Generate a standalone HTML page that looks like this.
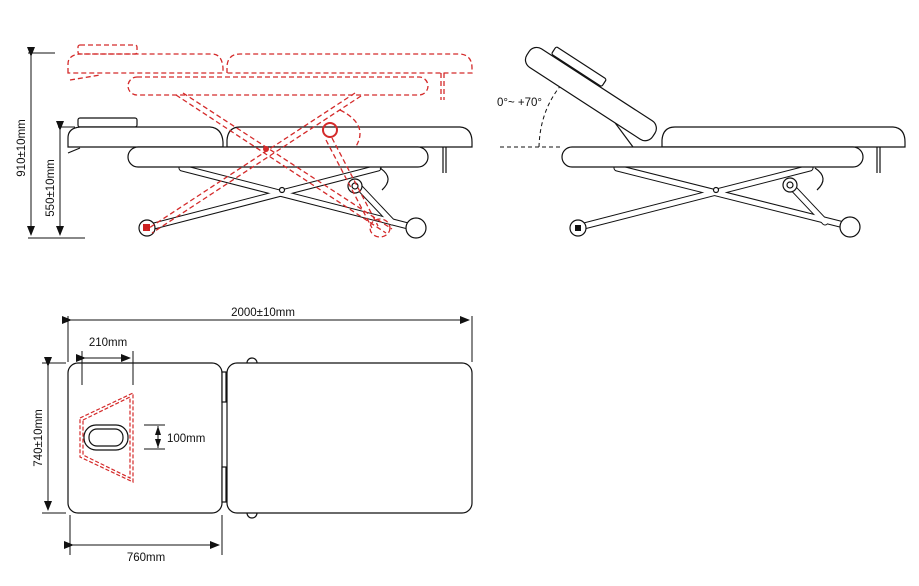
<!DOCTYPE html>
<html><head><meta charset="utf-8"><style>
html,body{margin:0;padding:0;background:#fff;}
svg{display:block;}
text{font-family:"Liberation Sans",sans-serif;font-size:11.5px;fill:#111;}
</style></head><body>
<svg width="919" height="586" viewBox="0 0 919 586" xmlns="http://www.w3.org/2000/svg">
<defs>
<marker id="ar" markerWidth="10" markerHeight="8" refX="9" refY="4" orient="auto" markerUnits="userSpaceOnUse"><path d="M0,0 L10,4 L0,8 z" fill="#111"/></marker>
</defs>
<g fill="none" stroke="#111" stroke-width="1">
<line x1="28" y1="53" x2="55" y2="53"/><line x1="28" y1="238" x2="85" y2="238"/>
<line x1="31" y1="56" x2="31" y2="235" marker-start="url(#ar)" marker-end="url(#ar)"/>
<line x1="58" y1="127" x2="75" y2="127"/>
<line x1="60" y1="130" x2="60" y2="235" marker-start="url(#ar)" marker-end="url(#ar)"/>
</g>
<text transform="translate(25,148) rotate(-90)" text-anchor="middle">910±10mm</text>
<text transform="translate(54,188) rotate(-90)" text-anchor="middle">550±10mm</text>

<g fill="#fff" stroke="#111" stroke-width="1.2">
<rect x="78" y="118" width="59" height="9" rx="2"/>
<path d="M68,147 V138 Q68,128 80,127 H210 Q222,128 223,142 V147 Z"/>
<path d="M227,147 V140 Q228,127 240,127 H460 Q472,128 472,142 V147 Z"/>
<line x1="443" y1="147" x2="443" y2="173"/><line x1="446" y1="147" x2="446" y2="173"/>
</g>
<g stroke="#111" stroke-width="7" stroke-linecap="round"><line x1="182" y1="168" x2="412" y2="227"/><line x1="378" y1="168" x2="150" y2="227"/><line x1="358" y1="186" x2="392" y2="222"/></g>
<g stroke="#fff" stroke-width="5" stroke-linecap="round"><line x1="182" y1="168" x2="412" y2="227"/><line x1="378" y1="168" x2="150" y2="227"/><line x1="358" y1="186" x2="392" y2="222"/></g>
<g fill="#fff" stroke="#111" stroke-width="1.2">
<rect x="128" y="147" width="300" height="20" rx="10"/>
<circle cx="147" cy="228" r="8"/><circle cx="416" cy="228" r="10"/>
<circle cx="282" cy="190" r="2.5"/>
<circle cx="355" cy="186" r="7"/><circle cx="355" cy="186" r="3"/>
<path d="M380,168 Q395,178 382,190" fill="none"/>
<path d="M68,153 L80,148" fill="none"/>
</g>
<rect x="143" y="224" width="7" height="7" fill="#c22"/>

<g fill="none" stroke="#d42a2a" stroke-width="1.3" stroke-dasharray="5,3">
<rect x="78" y="45" width="59" height="9" rx="2"/>
<path d="M68,73 V64 Q68,55 80,54 H212 Q222,54 223,68 V73 Z"/>
<path d="M227,73 V66 Q228,54 240,54 H460 Q472,55 472,68 V73 Z"/>
<rect x="128" y="77" width="300" height="18" rx="9"/>
<line x1="441" y1="73" x2="441" y2="100"/><line x1="444" y1="73" x2="444" y2="100"/>
<line x1="176" y1="95" x2="386" y2="233"/><line x1="183" y1="93" x2="392" y2="229"/>
<line x1="355" y1="93" x2="146" y2="230"/><line x1="361" y1="96" x2="152" y2="233"/>
<line x1="326" y1="140" x2="372" y2="228"/><line x1="332" y1="138" x2="378" y2="226"/>
<ellipse cx="380" cy="228" rx="10" ry="9"/>
<path d="M340,110 Q370,125 355,148"/>
<line x1="70" y1="80" x2="100" y2="75"/>
</g>
<circle cx="330" cy="130" r="7" fill="none" stroke="#d42a2a" stroke-width="2"/>
<circle cx="266" cy="149" r="3" fill="#d42a2a"/>

<!-- RIGHT VIEW -->
<g fill="none" stroke="#111" stroke-width="1" stroke-dasharray="4,3">
<line x1="500" y1="147" x2="562" y2="147"/>
<path d="M539,147 Q540,110 562,84"/>
</g>
<text x="497" y="106">0°~ +70°</text>
<g stroke="#111" stroke-width="7" stroke-linecap="round"><line x1="617" y1="168" x2="848" y2="226"/><line x1="810" y1="168" x2="580" y2="227"/><line x1="792" y1="187" x2="825" y2="222"/></g>
<g stroke="#fff" stroke-width="5" stroke-linecap="round"><line x1="617" y1="168" x2="848" y2="226"/><line x1="810" y1="168" x2="580" y2="227"/><line x1="792" y1="187" x2="825" y2="222"/></g>
<g fill="#fff" stroke="#111" stroke-width="1.2">
<path d="M662,147 V140 Q663,127 675,127 H893 Q905,128 905,142 V147 Z"/>
<line x1="877" y1="147" x2="877" y2="173"/><line x1="880" y1="147" x2="880" y2="173"/>
<line x1="570" y1="62" x2="633" y2="147" fill="none"/>
<g transform="translate(534,44) rotate(33)">
<rect x="0" y="0" width="150" height="22" rx="9"/>
<rect x="20" y="-10" width="60" height="9" rx="2"/>
</g>
<rect x="562" y="147" width="301" height="20" rx="10"/>
<circle cx="578" cy="228" r="8"/><circle cx="850" cy="227" r="10"/>
<circle cx="716" cy="190" r="2.5"/>
<circle cx="790" cy="185" r="7"/><circle cx="790" cy="185" r="3"/>
<path d="M815,168 Q830,178 817,190" fill="none"/>
</g>
<rect x="575" y="225" width="6" height="6" fill="#111"/>

<!-- PLAN VIEW -->
<g fill="#fff" stroke="#111" stroke-width="1.2">
<circle cx="252" cy="363" r="5"/><circle cx="252" cy="513" r="5"/>
<rect x="68" y="363" width="154" height="150" rx="10"/>
<rect x="227" y="363" width="245" height="150" rx="10"/>
<rect x="222" y="372" width="4" height="30"/><rect x="222" y="467" width="4" height="35"/>
<rect x="84" y="425" width="44" height="25" rx="12"/>
<rect x="89" y="429" width="34" height="17" rx="8"/>
</g>
<g fill="none" stroke="#d42a2a" stroke-width="1.2" stroke-dasharray="4,2">
<path d="M80,418 L133,393 V482 L80,457 Z"/>
<path d="M83,420 L130,397 V478 L83,455 Z"/>
</g>
<g fill="none" stroke="#111" stroke-width="1">
<line x1="68" y1="316" x2="68" y2="362"/><line x1="472" y1="316" x2="472" y2="362"/>
<line x1="71" y1="320" x2="469" y2="320" marker-start="url(#ar)" marker-end="url(#ar)"/>
<line x1="42" y1="363" x2="66" y2="363"/><line x1="42" y1="513" x2="66" y2="513"/>
<line x1="48" y1="366" x2="48" y2="510" marker-start="url(#ar)" marker-end="url(#ar)"/>
<line x1="82" y1="351" x2="82" y2="385"/><line x1="133" y1="351" x2="133" y2="385"/>
<line x1="85" y1="358" x2="130" y2="358" marker-start="url(#ar)" marker-end="url(#ar)"/>
<line x1="144" y1="425" x2="165" y2="425"/><line x1="144" y1="449" x2="165" y2="449"/>
<line x1="158" y1="426" x2="158" y2="448"/>
<line x1="70" y1="515" x2="70" y2="555"/><line x1="222" y1="515" x2="222" y2="555"/>
<line x1="73" y1="545" x2="219" y2="545" marker-start="url(#ar)" marker-end="url(#ar)"/>
</g>
<path d="M158,426 L155,435 L161,435 Z M158,448 L155,439 L161,439 Z" fill="#111"/>
<text x="263" y="316" text-anchor="middle">2000±10mm</text>
<text transform="translate(42,438) rotate(-90)" text-anchor="middle">740±10mm</text>
<text x="108" y="346" text-anchor="middle">210mm</text>
<text x="167" y="442">100mm</text>
<text x="146" y="561" text-anchor="middle">760mm</text>
</svg>
</body></html>
